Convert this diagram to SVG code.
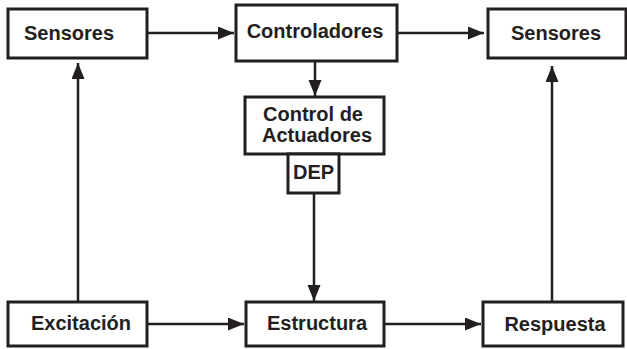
<svg xmlns="http://www.w3.org/2000/svg" width="627" height="349" viewBox="0 0 627 349">
<defs>
<style>
.box{fill:#fff;stroke:#231f20;stroke-width:3}
.t{font-family:"Liberation Sans",Arial,sans-serif;font-weight:bold;font-size:20px;fill:#231f20;text-anchor:middle}
.c{stroke:#231f20;stroke-width:2.5;fill:none}
</style>
<marker id="ah" markerUnits="userSpaceOnUse" markerWidth="17" markerHeight="14" refX="16" refY="6.5" orient="auto">
<path d="M0,0 L16,6.5 L0,13 Z" fill="#231f20"/>
</marker>
</defs>
<rect width="627" height="349" fill="#fff"/>
<g id="connectors">
<line class="c" x1="147" y1="33" x2="234" y2="33" marker-end="url(#ah)"/>
<line class="c" x1="397" y1="33" x2="484" y2="33" marker-end="url(#ah)"/>
<line class="c" x1="315" y1="61" x2="315" y2="96" marker-end="url(#ah)"/>
<line class="c" x1="314" y1="193" x2="314" y2="301" marker-end="url(#ah)"/>
<line class="c" x1="78" y1="302" x2="78" y2="63" marker-end="url(#ah)"/>
<line class="c" x1="552" y1="302" x2="552" y2="66" marker-end="url(#ah)"/>
<line class="c" x1="147" y1="324" x2="244" y2="324" marker-end="url(#ah)"/>
<line class="c" x1="384" y1="324" x2="481" y2="324" marker-end="url(#ah)"/>
</g>
<g id="sensores1"><rect class="box" x="8" y="9" width="139" height="49"/><text class="t" x="69" y="40">Sensores</text></g>
<g id="controladores"><rect class="box" x="236" y="5" width="161" height="56"/><text class="t" x="315" y="38">Controladores</text></g>
<g id="sensores2"><rect class="box" x="488" y="9" width="138" height="49"/><text class="t" x="556" y="40">Sensores</text></g>
<g id="control"><rect class="box" x="245" y="97" width="139" height="57"/><text class="t" x="313" y="121">Control de</text><text class="t" x="317" y="142">Actuadores</text></g>
<g id="dep"><rect class="box" x="288" y="154" width="51" height="39"/><text class="t" x="313.5" y="179">DEP</text></g>
<g id="excitacion"><rect class="box" x="8" y="302" width="139" height="44"/><text class="t" x="81" y="330">Excitación</text></g>
<g id="estructura"><rect class="box" x="246" y="302" width="138" height="44"/><text class="t" x="317" y="330">Estructura</text></g>
<g id="respuesta"><rect class="box" x="483" y="302" width="140" height="44"/><text class="t" x="555" y="331">Respuesta</text></g>
</svg>
